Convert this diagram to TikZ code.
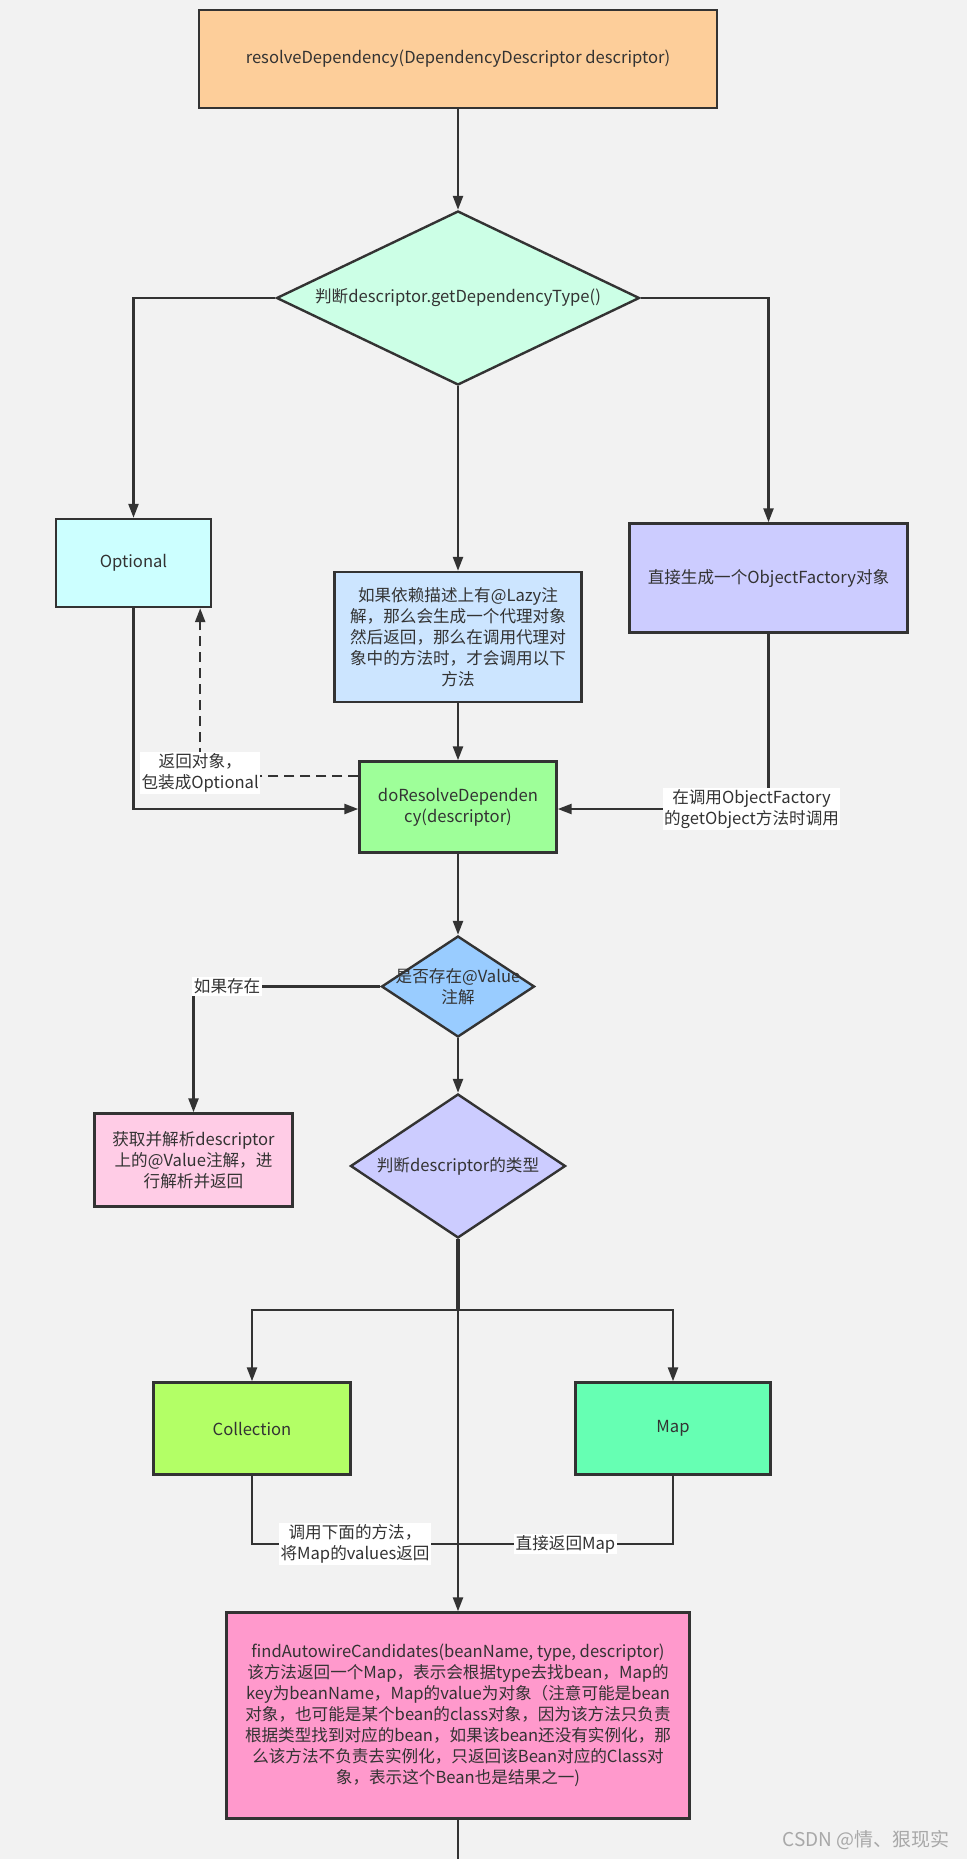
\documentclass[tikz,border=0pt]{standalone}
\usepackage{fontspec}
\setmainfont{Noto Sans CJK SC}
\usetikzlibrary{shapes.geometric,arrows.meta,calc}
\definecolor{bg}{HTML}{F2F2F2}
\definecolor{lc}{HTML}{333333}
\definecolor{tc}{HTML}{333333}
\definecolor{cTop}{HTML}{FDCE9A}
\definecolor{cD1}{HTML}{CCFFE6}
\definecolor{cOpt}{HTML}{CCFFFF}
\definecolor{cLazy}{HTML}{CCE5FF}
\definecolor{cOF}{HTML}{CCCCFF}
\definecolor{cDR}{HTML}{9EFF99}
\definecolor{cD2}{HTML}{99CCFF}
\definecolor{cPink}{HTML}{FFCCE6}
\definecolor{cD3}{HTML}{CCCCFF}
\definecolor{cCol}{HTML}{B3FF66}
\definecolor{cMap}{HTML}{66FFB3}
\definecolor{cFA}{HTML}{FF99CC}
\definecolor{wm}{HTML}{A8A8A8}
\newcommand\myfs{\fontsize{16.6pt}{21pt}\selectfont}
\tikzset{
  box/.style={rectangle, draw=lc, line width=2.4pt, align=center, text=tc, font=\myfs, inner sep=3pt},
  dia/.style={diamond, draw=lc, line width=2.4pt, inner sep=0pt, shape aspect=2},
  txt/.style={text=tc, font=\myfs, align=center, inner sep=0pt},
  ln/.style={draw=lc, line width=2.4pt},
  arr/.style={draw=lc, line width=2.4pt, -{Triangle[length=14pt,width=10pt]}},
  lbl/.style={fill=white, text=tc, font=\myfs, align=center, inner sep=1.5pt},
}
\begin{document}
\begin{tikzpicture}[x=1pt,y=-1pt]
\useasboundingbox (0,0) rectangle (967,1859);
\fill[bg] (0,0) rectangle (967,1859);

% nodes
\node[box, fill=cTop, minimum width=518pt, minimum height=98pt] (top) at (458,59) {resolveDependency(DependencyDescriptor descriptor)};
\node[dia, fill=cD1, minimum width=363pt, minimum height=174pt] (d1) at (458,298) {};
\node[txt] (d1t) at (458,298) {判断descriptor.getDependencyType()};
\node[box, fill=cOpt, minimum width=155pt, minimum height=88pt] (opt) at (133.5,563) {Optional};
\node[box, fill=cOF, minimum width=278pt, minimum height=109pt] (of) at (768.5,578) {直接生成一个ObjectFactory对象};
\node[box, fill=cLazy, minimum width=247pt, minimum height=130pt] (lazy) at (458,637) {如果依赖描述上有@Lazy注\\解，那么会生成一个代理对象\\然后返回，那么在调用代理对\\象中的方法时，才会调用以下\\方法};
\node[box, fill=cDR, minimum width=197pt, minimum height=91pt] (dr) at (458,807) {doResolveDependen\\cy(descriptor)};
\node[dia, fill=cD2, minimum width=153pt, minimum height=101pt] (d2) at (458,986.5) {};
\node[txt] (d2t) at (458,987) {是否存在@Value\\注解};
\node[box, fill=cPink, minimum width=198pt, minimum height=93pt] (pink) at (193.5,1160) {获取并解析descriptor\\上的@Value注解，进\\行解析并返回};
\node[dia, fill=cD3, minimum width=215pt, minimum height=144pt] (d3) at (458,1166) {};
\node[txt] (d3t) at (458,1166) {判断descriptor的类型};
\node[box, fill=cCol, minimum width=197pt, minimum height=92pt] (col) at (252,1428.5) {Collection};
\node[box, fill=cMap, minimum width=195pt, minimum height=92pt] (map) at (673,1428.5) {Map};
\node[box, fill=cFA, minimum width=463pt, minimum height=206pt] (fa) at (458,1715.5) {findAutowireCandidates(beanName, type, descriptor)\\该方法返回一个Map，表示会根据type去找bean，Map的\\key为beanName，Map的value为对象（注意可能是bean\\对象，也可能是某个bean的class对象，因为该方法只负责\\根据类型找到对应的bean，如果该bean还没有实例化，那\\么该方法不负责去实例化，只返回该Bean对应的Class对\\象，表示这个Bean也是结果之一)};

\coordinate (br) at (458,1310);
\coordinate (jn) at (458,1544);
\coordinate (bot) at (458,1859);

% connectors
\draw[arr] (top.south) -- (d1.north);
\draw[arr] (d1.west) -| (opt.north);
\draw[arr] (d1.east) -| (of.north);
\draw[arr] (d1.south) -- (lazy.north);
\draw[arr] (lazy.south) -- (dr.north);
\draw[arr] (opt.south) |- ([yshift=-2pt]dr.west);
\draw[arr, dashed, dash pattern=on 10pt off 6pt] ([yshift=31pt]dr.west) -| node[lbl, pos=0.5, yshift=3pt] (l1) {返回对象，\\包装成Optional} ([xshift=-12pt]opt.south east);
\draw[arr] (of.south) |- node[lbl, pos=0.5, xshift=-17pt] (l2) {在调用ObjectFactory\\的getObject方法时调用} ([yshift=-2pt]dr.east);
\draw[arr] (dr.south) -- (d2.north);
\draw[arr] (d2.west) -| node[lbl, pos=0.41] (l3) {如果存在} (pink.north);
\draw[arr] (d2.south) -- (d3.north);
\draw[arr] (d3.south) -- (fa.north);
\draw[ln, line width=3.6pt] (d3.south) -- (br);
\draw[arr] (br) -| (col.north);
\draw[arr] (br) -| (map.north);
\draw[ln] (col.south) |- node[lbl, pos=0.75] (l4) {调用下面的方法，\\将Map的values返回} (jn);
\draw[ln] (map.south) |- node[lbl, pos=0.75] (l5) {直接返回Map} (jn);
\draw[ln] (fa.south) -- (bot);

\node[text=wm, font=\fontsize{19pt}{22pt}\selectfont, inner sep=0pt] (wmk) at (866,1840) {CSDN @情、狠现实};
\end{tikzpicture}
\end{document}
